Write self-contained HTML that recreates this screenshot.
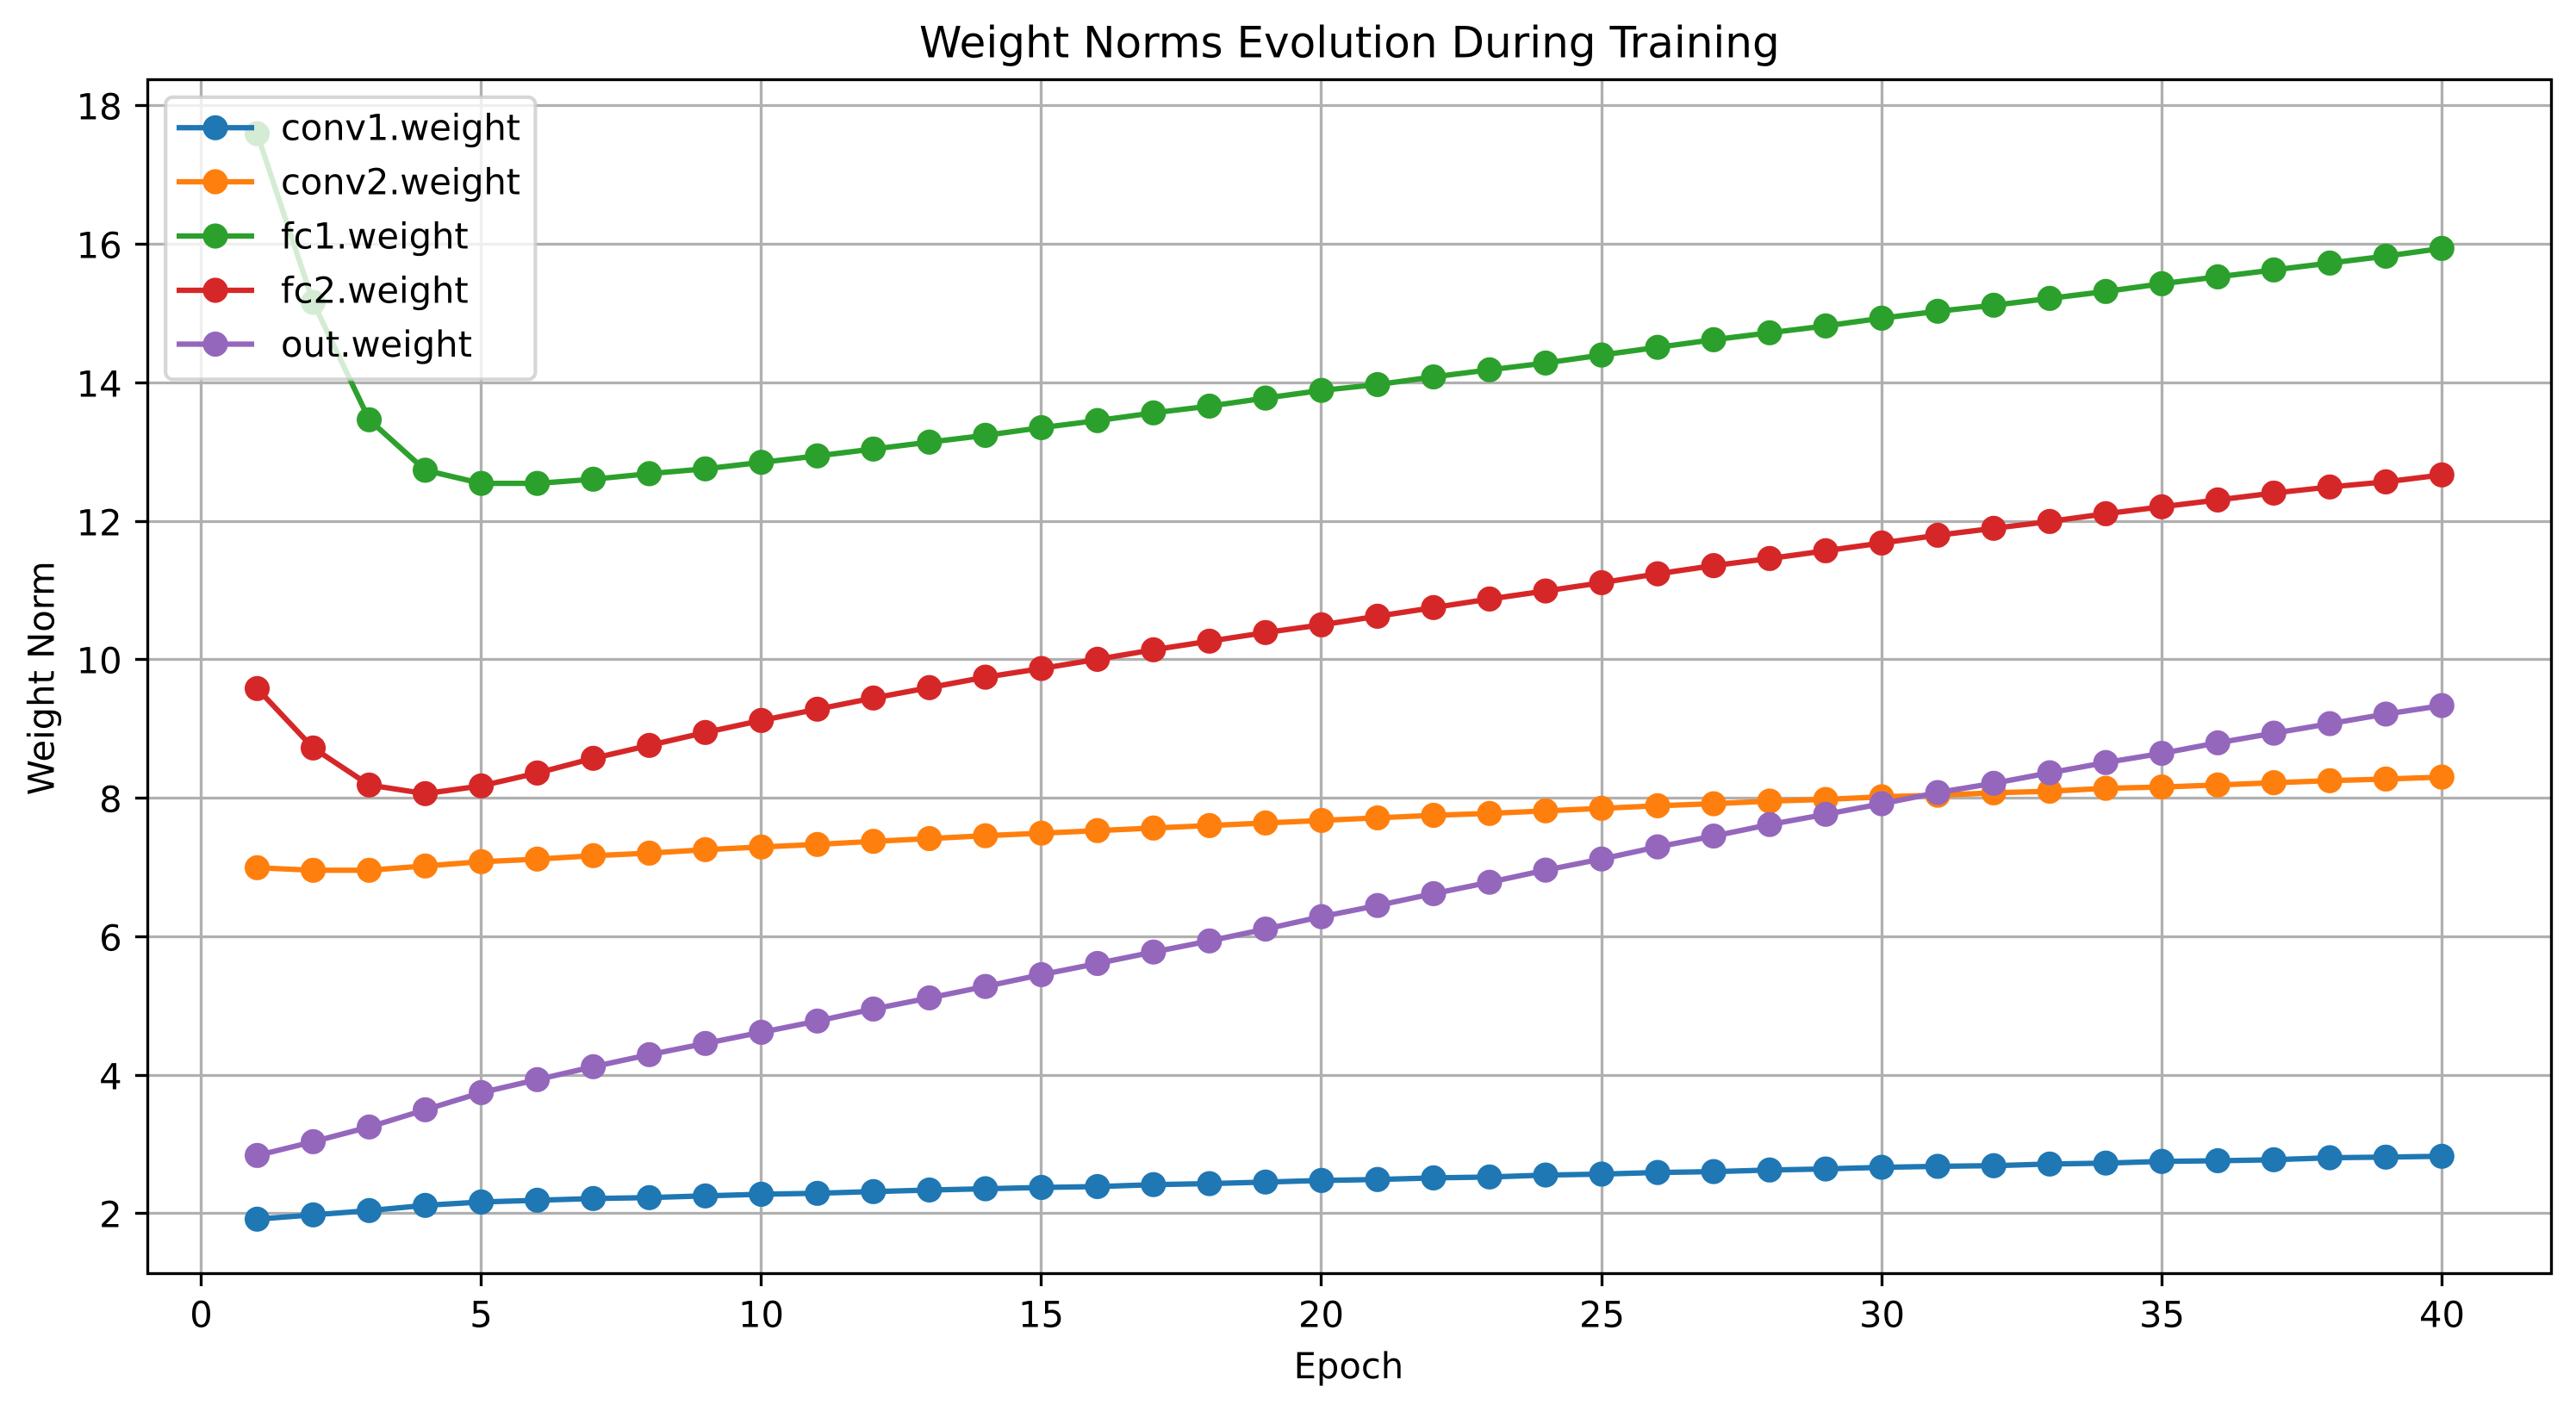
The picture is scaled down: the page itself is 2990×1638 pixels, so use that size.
<!DOCTYPE html>
<html lang="en">
<head>
<meta charset="utf-8">
<title>Weight Norms Evolution During Training</title>
<style>
html,body{margin:0;padding:0;background:#fff;width:2990px;height:1638px;overflow:hidden}
svg{display:block}
text{font-family:"DejaVu Sans","Liberation Sans",sans-serif;fill:#000;text-rendering:geometricPrecision}
</style>
</head>
<body>
<svg id="chart" xmlns="http://www.w3.org/2000/svg" width="2990" height="1638" viewBox="0 0 2990 1638">
  <rect x="0" y="0" width="2990" height="1638" fill="#ffffff"/>
  <g id="grid-layer"></g>
  <g id="series-layer"></g>
  <g id="ticks-layer"></g>
  <rect x="171.5" y="92.5" width="2790" height="1386" fill="none" stroke="#000" stroke-width="3.33"/>
  <text x="1566.4" y="66.5" font-size="50" text-anchor="middle">Weight Norms Evolution During Training</text>
  <text x="1565.4" y="1600" font-size="41.67" text-anchor="middle">Epoch</text>
  <text transform="translate(62.5 787.3) rotate(-90)" font-size="41.67" text-anchor="middle">Weight Norm</text>
  <g id="legend">
    <rect x="192.2" y="112.8" width="429.2" height="327.5" rx="8.33" ry="8.33" fill="#ffffff" fill-opacity="0.8" stroke="#cccccc" stroke-opacity="0.8" stroke-width="4.17"/>
    <g>
      <line x1="205" x2="295" y1="148.3" y2="148.3" stroke="#1f77b4" stroke-width="6.25"/>
      <circle cx="250" cy="148.3" r="14.58" fill="#1f77b4"/>
      <text x="326" y="162.6" font-size="41.67" letter-spacing="-0.15">conv1.weight</text>
    </g>
    <g>
      <line x1="205" x2="295" y1="211" y2="211" stroke="#ff7f0e" stroke-width="6.25"/>
      <circle cx="250" cy="211" r="14.58" fill="#ff7f0e"/>
      <text x="326" y="225.3" font-size="41.67" letter-spacing="-0.15">conv2.weight</text>
    </g>
    <g>
      <line x1="205" x2="295" y1="274" y2="274" stroke="#2ca02c" stroke-width="6.25"/>
      <circle cx="250" cy="274" r="14.58" fill="#2ca02c"/>
      <text x="326" y="288.3" font-size="41.67">fc1.weight</text>
    </g>
    <g>
      <line x1="205" x2="295" y1="337" y2="337" stroke="#d62728" stroke-width="6.25"/>
      <circle cx="250" cy="337" r="14.58" fill="#d62728"/>
      <text x="326" y="351.3" font-size="41.67">fc2.weight</text>
    </g>
    <g>
      <line x1="205" x2="295" y1="399.5" y2="399.5" stroke="#9467bd" stroke-width="6.25"/>
      <circle cx="250" cy="399.5" r="14.58" fill="#9467bd"/>
      <text x="326" y="413.8" font-size="41.67">out.weight</text>
    </g>
  </g>
</svg>
<script>
const epochs = [1,2,3,4,5,6,7,8,9,10,11,12,13,14,15,16,17,18,19,20,21,22,23,24,25,26,27,28,29,30,31,32,33,34,35,36,37,38,39,40];
const xTickLabels = [0,5,10,15,20,25,30,35,40];
const yTickLabels = [2,4,6,8,10,12,14,16,18];
const seriesNames = ["conv1","conv2","fc1","fc2","out"];
const seriesColors = ["#1f77b4","#ff7f0e","#2ca02c","#d62728","#9467bd"];
const conv1Weight = [1.913,1.975,2.037,2.112,2.161,2.186,2.211,2.224,2.249,2.273,2.286,2.311,2.334,2.352,2.371,2.384,2.412,2.426,2.449,2.472,2.486,2.509,2.522,2.550,2.564,2.587,2.600,2.623,2.638,2.662,2.676,2.685,2.709,2.723,2.747,2.757,2.771,2.800,2.809,2.821];
const conv2Weight = [6.989,6.952,6.952,7.014,7.076,7.113,7.163,7.200,7.250,7.288,7.325,7.370,7.410,7.451,7.488,7.525,7.562,7.598,7.635,7.672,7.709,7.746,7.773,7.810,7.847,7.884,7.913,7.951,7.975,8.013,8.036,8.070,8.094,8.136,8.155,8.184,8.217,8.246,8.270,8.298];
const fc1Weight = [17.59,15.155,13.459,12.73,12.54,12.54,12.60,12.68,12.75,12.844,12.937,13.036,13.136,13.234,13.345,13.447,13.558,13.656,13.772,13.883,13.967,14.078,14.18,14.278,14.394,14.505,14.615,14.715,14.814,14.926,15.026,15.113,15.212,15.312,15.424,15.523,15.623,15.722,15.822,15.934];
const fc2Weight = [9.577,8.718,8.183,8.059,8.171,8.357,8.569,8.756,8.942,9.116,9.278,9.44,9.590,9.741,9.866,9.999,10.137,10.261,10.386,10.497,10.621,10.746,10.870,10.986,11.106,11.234,11.352,11.455,11.567,11.679,11.791,11.891,11.990,12.102,12.202,12.301,12.400,12.488,12.562,12.662];
const outWeight = [2.833,3.032,3.244,3.493,3.741,3.928,4.115,4.289,4.451,4.612,4.774,4.948,5.109,5.274,5.445,5.606,5.771,5.932,6.103,6.282,6.443,6.614,6.779,6.954,7.115,7.290,7.446,7.613,7.760,7.913,8.075,8.208,8.360,8.508,8.641,8.793,8.932,9.070,9.208,9.331];
const seriesValues = [conv1Weight, conv2Weight, fc1Weight, fc2Weight, outWeight];

const NS = "http://www.w3.org/2000/svg";
const plot = {left:171.5, right:2961.5, top:92.5, bottom:1478.5};
function xScale(v){ return 233.5 + 65.02 * v; }
function yScale(v){ return 1408.3 - 80.375 * (v - 2); }
function snapX(px){ return Math.floor(px) + 0.5; }
function snapY(py){ return Math.floor(py + 0.5) + 0.5; }
function make(tag, parent, attrs){
  const el = document.createElementNS(NS, tag);
  for (const k in attrs) el.setAttribute(k, attrs[k]);
  parent.appendChild(el);
  return el;
}
const gridLayer = document.getElementById("grid-layer");
const ticksLayer = document.getElementById("ticks-layer");
const seriesLayer = document.getElementById("series-layer");

xTickLabels.forEach(function(t){
  const px = snapX(xScale(t));
  const gl = make("line", gridLayer, {x1:px, x2:px, y1:plot.top, y2:plot.bottom, stroke:"#b0b0b0", "stroke-width":3.33});
  
  
  const tk = make("line", ticksLayer, {x1:px, x2:px, y1:plot.bottom, y2:plot.bottom + 14.6, stroke:"#000", "stroke-width":3.33});
  
  
  const lb = make("text", ticksLayer, {x:px, y:1540.6, "font-size":41.67, "text-anchor":"middle"});
  lb.textContent = String(t);
  
  
});
yTickLabels.forEach(function(t){
  const py = snapY(yScale(t));
  const gl = make("line", gridLayer, {x1:plot.left, x2:plot.right, y1:py, y2:py, stroke:"#b0b0b0", "stroke-width":3.33});
  
  
  const tk = make("line", ticksLayer, {x1:plot.left - 14.6, x2:plot.left, y1:py, y2:py, stroke:"#000", "stroke-width":3.33});
  
  
  const lb = make("text", ticksLayer, {x:141.7, y:py + 16.1, "font-size":41.67, "text-anchor":"end"});
  lb.textContent = String(t);
  
  
});
seriesValues.forEach(function(values, s){
  const color = seriesColors[s];
  const g = make("g", seriesLayer, {});
  
  
  const pts = values.map(function(v, i){ return xScale(epochs[i]).toFixed(2) + "," + yScale(v).toFixed(2); }).join(" ");
  const line = make("polyline", g, {points:pts, fill:"none", stroke:color, "stroke-width":6.25, "stroke-linejoin":"round", "stroke-linecap":"square"});
  
  
  values.forEach(function(v, i){
    const c = make("circle", g, {cx:xScale(epochs[i]).toFixed(2), cy:yScale(v).toFixed(2), r:14.58, fill:color});
    
    
  });
});
</script>
</body>
</html>
